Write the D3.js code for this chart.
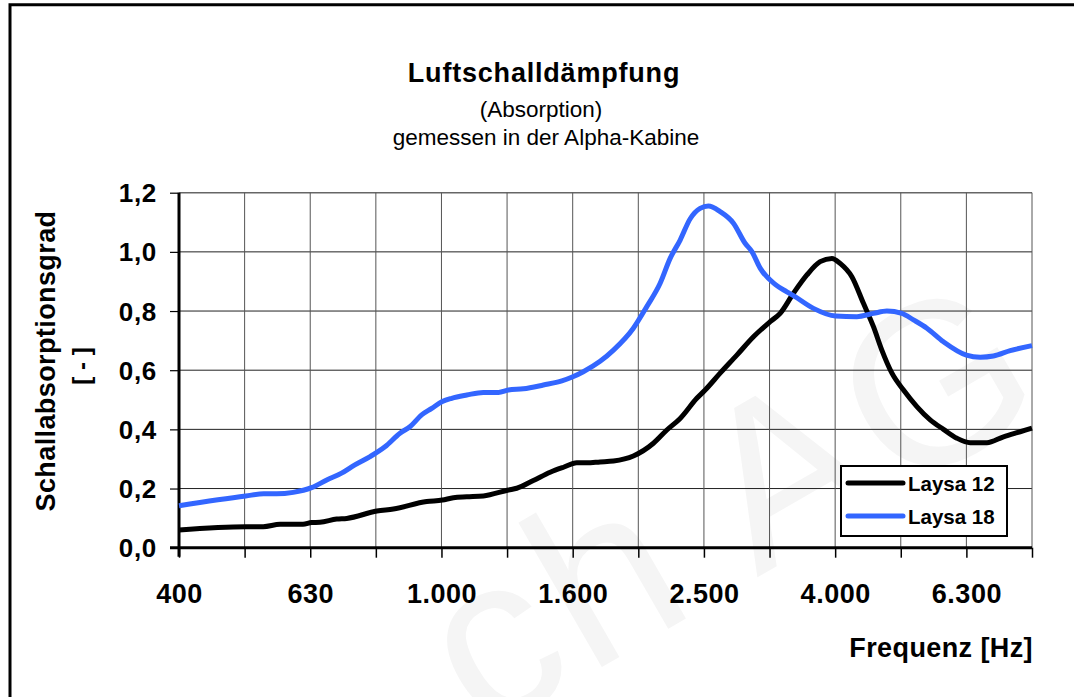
<!DOCTYPE html>
<html>
<head>
<meta charset="utf-8">
<script src="https://d3js.org/d3.v7.min.js"></script>
<style>
  body {margin: 0; background: #fff;}
  svg {display: block; font-family: "Liberation Sans", Arial, sans-serif;}
  .axis .domain {display: none;}
  .axis text {font-weight: bold; fill: #000;}
</style>
</head>
<body>
<svg id="chart" width="1074" height="697"></svg>
<script>
// third-octave bands; only every second one gets a label
var bands = [400, 500, 630, 800, 1000, 1250, 1600, 2000, 2500, 3150, 4000, 5000, 6300, 8000];
var bandLabels = ["400", "", "630", "", "1.000", "", "1.600", "", "2.500", "", "4.000", "", "6.300", ""];
var yTicks = [0, 0.2, 0.4, 0.6, 0.8, 1.0, 1.2];
var yTickLabels = ["0,0", "0,2", "0,4", "0,6", "0,8", "1,0", "1,2"];

// Laysa 12 (black)
var laysa12Hz = [400, 506, 538, 571, 619, 638, 657, 697, 722, 803, 851, 957, 1011, 1051, 1102, 1168,
  1276, 1314, 1393, 1478, 1549, 1623, 1681, 1762, 1847, 1981, 2126, 2229, 2336, 2477, 2551, 2689,
  2852, 3024, 3207, 3322, 3481, 3650, 3824, 3986, 4103, 4276, 4454, 4614, 4752, 4924, 5129, 5376,
  5634, 5904, 6190, 6486, 6878, 7293, 7735, 8063];
var laysa12 = [0.060, 0.071, 0.071, 0.079, 0.079, 0.085, 0.086, 0.097, 0.099, 0.124, 0.131, 0.156, 0.161, 0.169, 0.172, 0.175,
  0.195, 0.201, 0.227, 0.255, 0.272, 0.287, 0.287, 0.290, 0.293, 0.310, 0.353, 0.398, 0.437, 0.505, 0.533, 0.590,
  0.651, 0.713, 0.764, 0.792, 0.860, 0.922, 0.967, 0.978, 0.961, 0.916, 0.826, 0.747, 0.668, 0.590, 0.533, 0.477,
  0.432, 0.400, 0.370, 0.355, 0.355, 0.375, 0.392, 0.404];

// Laysa 18 (blue)
var laysa18Hz = [400, 506, 539, 564, 598, 638, 673, 709, 743, 784, 826, 871, 902, 940, 974, 1011,
  1045, 1102, 1168, 1232, 1276, 1345, 1443, 1540, 1601, 1661, 1762, 1847, 1981, 2077, 2177, 2255,
  2336, 2420, 2506, 2580, 2689, 2818, 2936, 3007, 3096, 3264, 3401, 3481, 3735, 4036, 4352, 4614,
  4837, 5100, 5312, 5569, 5904, 6400, 6720, 7040, 7468, 8063];
var laysa18 = [0.142, 0.175, 0.182, 0.182, 0.187, 0.203, 0.229, 0.252, 0.280, 0.308, 0.341, 0.387, 0.409, 0.449, 0.471, 0.494,
  0.505, 0.516, 0.525, 0.525, 0.533, 0.537, 0.550, 0.564, 0.578, 0.595, 0.630, 0.668, 0.742, 0.815, 0.894, 0.978,
  1.040, 1.112, 1.147, 1.155, 1.136, 1.097, 1.029, 1.001, 0.945, 0.890, 0.865, 0.852, 0.809, 0.783, 0.781, 0.792,
  0.800, 0.792, 0.770, 0.742, 0.696, 0.651, 0.644, 0.648, 0.666, 0.683];

var seriesNames = ["Laysa 12", "Laysa 18"];
var seriesColors = ["#000000", "#3366ff"];

var svg = d3.select("#chart");
var plotLeft = 179, plotRight = 1032, plotTop = 192.7, plotBottom = 547.7;

// exact third-octave steps, the nominal band names are only labels
var x = d3.scaleLog()
    .domain([400, 400 * Math.pow(2, 13 / 3)])
    .range([plotLeft, plotRight]);
var bandPos = bands.map(function(f, i) { return 400 * Math.pow(2, i / 3); });

var y = d3.scaleLinear()
    .domain([0, 1.2])
    .range([plotBottom, plotTop]);

// outer frame (left and top edges only visible)
svg.append("path")
    .attr("d", "M10,697V4.7H1074")
    .attr("fill", "none")
    .attr("stroke", "#000")
    .attr("stroke-width", 3);

// faint watermark
svg.append("text")
    .attr("transform", "translate(770,570) rotate(-30)")
    .attr("text-anchor", "middle")
    .attr("font-size", 230)
    .attr("letter-spacing", 8)
    .attr("fill", "#f5f5f5")
    .text("ch AG");

// grid
svg.append("g")
    .selectAll("line")
    .data(yTicks.slice(1))
    .enter().append("line")
    .attr("x1", plotLeft).attr("x2", plotRight)
    .attr("y1", function(d) { return y(d); })
    .attr("y2", function(d) { return y(d); })
    .attr("stroke", function(d) { return d === 1.2 ? "#666" : "#222"; })
    .attr("stroke-width", function(d) { return d === 1.2 ? 1.5 : 1; });

svg.append("g")
    .selectAll("line")
    .data(bandPos.slice(1))
    .enter().append("line")
    .attr("x1", function(d) { return x(d); })
    .attr("x2", function(d) { return x(d); })
    .attr("y1", plotTop).attr("y2", plotBottom)
    .attr("stroke", "#555")
    .attr("stroke-width", 1);

// axes
var yAxis = svg.append("g")
    .attr("class", "axis")
    .attr("transform", "translate(" + plotLeft + ",0)")
    .call(d3.axisLeft(y)
        .tickValues(yTicks)
        .tickSize(9)
        .tickPadding(13)
        .tickFormat(function(d, i) { return yTickLabels[i]; }));
yAxis.selectAll("line").attr("stroke", "#000").attr("stroke-width", 1.2);
yAxis.selectAll("text").attr("font-size", 26).attr("letter-spacing", 0.7).attr("dy", "0.35em");

var xAxis = svg.append("g")
    .attr("class", "axis")
    .attr("transform", "translate(0," + plotBottom + ")")
    .call(d3.axisBottom(x)
        .tickValues(bandPos)
        .tickSize(10)
        .tickPadding(26)
        .tickFormat(function(d, i) { return bandLabels[i]; }));
xAxis.selectAll("line").attr("stroke", "#000").attr("stroke-width", 1.5);
xAxis.selectAll("text").attr("font-size", 27).attr("letter-spacing", 0.5);

// heavy axis lines
svg.append("line")
    .attr("x1", plotLeft).attr("x2", plotLeft)
    .attr("y1", plotTop).attr("y2", plotBottom + 9)
    .attr("stroke", "#000").attr("stroke-width", 3);
svg.append("line")
    .attr("x1", plotLeft - 9).attr("x2", plotRight)
    .attr("y1", plotBottom).attr("y2", plotBottom)
    .attr("stroke", "#000").attr("stroke-width", 3);

// curves
var series = [
    laysa12Hz.map(function(f, i) { return [f, laysa12[i]]; }),
    laysa18Hz.map(function(f, i) { return [f, laysa18[i]]; })
];
var line = d3.line()
    .x(function(d) { return x(d[0]); })
    .y(function(d) { return y(d[1]); })
    .curve(d3.curveMonotoneX);

svg.append("g")
    .selectAll("path")
    .data(series)
    .enter().append("path")
    .attr("d", line)
    .attr("fill", "none")
    .attr("stroke", function(d, i) { return seriesColors[i]; })
    .attr("stroke-width", 5)
    .attr("stroke-linejoin", "round");

// legend
var legend = svg.append("g").attr("transform", "translate(841,466)");
legend.append("rect")
    .attr("width", 166)
    .attr("height", 70)
    .attr("fill", "#fff")
    .attr("stroke", "#000")
    .attr("stroke-width", 2);
var item = legend.selectAll("g")
    .data(seriesNames)
    .enter().append("g")
    .attr("transform", function(d, i) { return "translate(0," + (17 + i * 33) + ")"; });
item.append("line")
    .attr("x1", 7).attr("x2", 62)
    .attr("stroke", function(d, i) { return seriesColors[i]; })
    .attr("stroke-width", 5)
    .attr("stroke-linecap", "round");
item.append("text")
    .attr("x", 67)
    .attr("y", 8)
    .attr("font-size", 20.5)
    .attr("font-weight", "bold")
    .text(function(d) { return d; });

// titles
svg.append("text")
    .attr("x", 544).attr("y", 82)
    .attr("text-anchor", "middle")
    .attr("font-size", 27)
    .attr("font-weight", "bold")
    .attr("letter-spacing", 0.8)
    .text("Luftschalldämpfung");
svg.append("text")
    .attr("x", 541).attr("y", 117)
    .attr("text-anchor", "middle")
    .attr("font-size", 22.5)
    .text("(Absorption)");
svg.append("text")
    .attr("x", 546).attr("y", 145)
    .attr("text-anchor", "middle")
    .attr("font-size", 22.5)
    .text("gemessen in der Alpha-Kabine");

svg.append("text")
    .attr("x", 1033).attr("y", 657)
    .attr("text-anchor", "end")
    .attr("font-size", 27)
    .attr("font-weight", "bold")
    .attr("letter-spacing", 0.4)
    .text("Frequenz [Hz]");

svg.append("text")
    .attr("transform", "translate(55,361) rotate(-90)")
    .attr("text-anchor", "middle")
    .attr("font-size", 27)
    .attr("font-weight", "bold")
    .attr("letter-spacing", 0.4)
    .text("Schallabsorptionsgrad");
svg.append("text")
    .attr("transform", "translate(90,366) rotate(-90)")
    .attr("text-anchor", "middle")
    .attr("font-size", 24)
    .attr("font-weight", "bold")
    .text("[ - ]");
</script>
</body>
</html>
